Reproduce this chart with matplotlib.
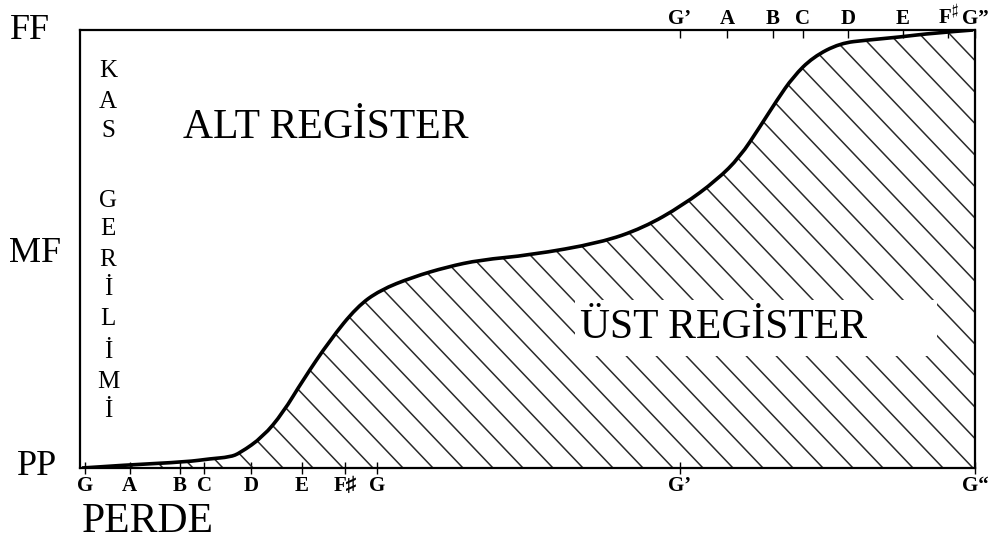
import numpy as np
import matplotlib
matplotlib.use('Agg')
import matplotlib.pyplot as plt
from matplotlib.patches import PathPatch, Rectangle
from matplotlib.path import Path
from matplotlib.collections import LineCollection

plt.rcParams['font.family'] = ['Liberation Serif', 'DejaVu Serif']
plt.rcParams['mathtext.fontset'] = 'stix'

# pitch axis in semitones from the low G, loudness 0 (PP) .. 1 (FF)
curve_x = [-0.12, 1.70, 4.12, 5.05, 5.86, 6.26, 7.19, 8.00, 8.81, 9.90, 10.99, 11.92,
           13.25, 14.63, 15.96, 17.98, 20.81, 22.55, 24.16, 25.54, 26.46, 27.27,
           27.96, 28.61, 29.41, 30.51, 31.60, 32.93, 34.26, 35.88]
curve_y = [0.0, 0.007, 0.014, 0.021, 0.025, 0.034, 0.071, 0.126, 0.201, 0.292, 0.368, 0.406,
           0.436, 0.459, 0.475, 0.486, 0.514, 0.548, 0.600, 0.658, 0.710, 0.779,
           0.840, 0.893, 0.938, 0.970, 0.977, 0.984, 0.993, 1.0]

bottom_pos = [0, 1.8, 3.84, 4.81, 6.71, 8.77, 10.5, 11.8, 24.04, 35.96]
bottom_labels = ['G', 'A', 'B', 'C', 'D', 'E', 'F♯', 'G', 'G’', 'G“']
top_pos = [24.04, 25.94, 27.8, 29.01, 30.83, 33.05, 34.87, 35.96]
top_labels = ['G’', 'A', 'B', 'C', 'D', 'E', r'F$^\sharp$', 'G”']

level_labels = ['PP', 'MF', 'FF']
vert_letters = ['K', 'A', 'S', 'G', 'E', 'R', 'İ', 'L', 'İ', 'M', 'İ']
vert_baselines = [77, 108, 137, 207, 235, 266, 295, 325, 358, 388, 417]  # pixel rows


def smooth_path(xs, ys):
  # quadratic bezier through midpoints, the read points act as control points
  pts = list(zip(xs, ys))
  verts = [pts[0]]
  codes = [Path.MOVETO]
  for i in range(1, len(pts) - 1):
    mid = ((pts[i][0] + pts[i + 1][0]) / 2, (pts[i][1] + pts[i + 1][1]) / 2)
    if i == len(pts) - 2:
      mid = pts[-1]
    verts += [pts[i], mid]
    codes += [Path.CURVE3, Path.CURVE3]
  return verts, codes


W, H = 1006, 539
fig = plt.figure(figsize=(W / 100, H / 100), dpi=100)
ax = fig.add_axes([80 / W, 71 / H, 895 / W, 438 / H])
xmin, xmax = -0.2, 35.96
ax.set_xlim(xmin, xmax)
ax.set_ylim(0, 1)

for s in ax.spines.values():
  s.set_linewidth(1.6)

cv, cc = smooth_path(curve_x, curve_y)

# shaded region under the curve
rv = cv + [(xmax, 1.0), (xmax, 0.0), (xmin, 0.0), (0, 0)]
rc = cc + [Path.LINETO, Path.LINETO, Path.LINETO, Path.CLOSEPOLY]
region = PathPatch(Path(rv, rc), facecolor='none', edgecolor='none', transform=ax.transData)
ax.add_patch(region)

# diagonal hatch lines, ~30 px apart along the baseline
ax_w, ax_h = 895.0, 438.0
slope = 1.05
segs = []
for xb in np.arange(973 - 80 + 450, -ax_h / slope - 40, -30.0):
  segs.append([(xb / ax_w, 0.0), ((xb - ax_h / slope) / ax_w, 1.0)])
hatch = LineCollection(segs, colors='#2a2a2a', linewidths=1.1, transform=ax.transAxes, zorder=2)
ax.add_collection(hatch)
hatch.set_clip_path(region)

ax.add_patch(PathPatch(Path(cv, cc), facecolor='none', edgecolor='black', lw=2.6, zorder=5,
                       transform=ax.transData))

# ticks
ax.set_xticks(bottom_pos, bottom_labels, fontsize=15, fontweight='bold')
ax.tick_params(axis='x', direction='inout', length=9, width=1, pad=1)
ax.set_yticks([])
top = ax.secondary_xaxis('top')
top.set_xticks(top_pos, top_labels, fontsize=15, fontweight='bold')
top.tick_params(direction='in', length=6, width=1, pad=1)
top.spines['top'].set_visible(False)

# level labels on the left
for lab, x_px, base_px in zip(level_labels, [37, 35, 30], [475, 262, 39]):
  ax.text((x_px - 80) / ax_w, (468 - base_px) / ax_h, lab, transform=ax.transAxes,
          ha='center', va='baseline', fontsize=26)

for ch, b in zip(vert_letters, vert_baselines):
  ax.text((108 - 80) / ax_w, (468 - b) / ax_h, ch, transform=ax.transAxes,
          ha='center', va='baseline', fontsize=18)

ax.text((183 - 80) / ax_w, (468 - 138) / ax_h, 'ALT REGİSTER', transform=ax.transAxes,
        ha='left', va='baseline', fontsize=30)

ax.add_patch(Rectangle(((575 - 80) / ax_w, (468 - 356) / ax_h), 362 / ax_w, 56 / ax_h,
                       transform=ax.transAxes, facecolor='white', edgecolor='none', zorder=3))
ax.text((580 - 80) / ax_w, (468 - 338) / ax_h, 'ÜST REGİSTER', transform=ax.transAxes,
        ha='left', va='baseline', fontsize=30, zorder=4)

ax.text((82 - 80) / ax_w, (468 - 532) / ax_h, 'PERDE', transform=ax.transAxes,
        ha='left', va='baseline', fontsize=30, clip_on=False)

fig.savefig('out.png', dpi=100, facecolor='white')
